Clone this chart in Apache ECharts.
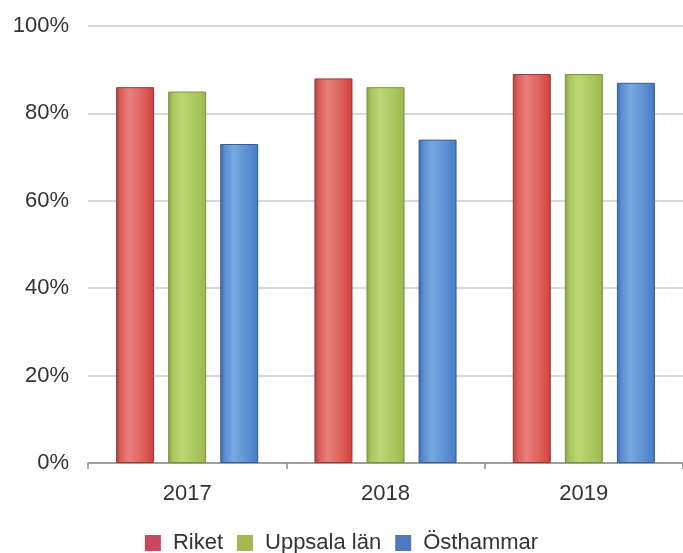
<!DOCTYPE html>
<html>
<head>
<meta charset="utf-8">
<script src="https://cdn.jsdelivr.net/npm/echarts@6/dist/echarts.min.js"></script>
<style>
  html, body { margin: 0; padding: 0; background: #fff; }
  #chart { width: 683px; height: 553px; }
</style>
</head>
<body>
<div id="chart"></div>
<script>
// Andel (%) per år och område
const years = ['2017', '2018', '2019'];
const riket = [86, 88, 89];
const uppsala = [85, 86, 89];
const osthammar = [73, 74, 87];
const yTicks = [0, 20, 40, 60, 80, 100];

function barFill(edge, light, mid, dark) {
  return new echarts.graphic.LinearGradient(0, 0, 1, 0, [
    { offset: 0, color: edge },
    { offset: 0.12, color: mid },
    { offset: 0.35, color: light },
    { offset: 0.75, color: mid },
    { offset: 0.95, color: dark },
    { offset: 1, color: edge }
  ]);
}

const palette = {
  riket:  { legend: '#c9475f', fill: barFill('#a84444', '#e8807c', '#dc5d58', '#d8433e'), border: '#8e3b3b' },
  uppsala:{ legend: '#a5b752', fill: barFill('#8ba046', '#bad774', '#a8c65c', '#9dbb4d'), border: '#7f9243' },
  osth:   { legend: '#5177c0', fill: barFill('#3f68a6', '#78a8e0', '#5a8ed2', '#4a7ec6'), border: '#3c5f94' }
};

function makeSeries(name, data, p) {
  return {
    name: name,
    type: 'bar',
    data: data,
    barWidth: 38,
    barGap: '37%',
    itemStyle: { color: p.fill, borderColor: p.border, borderWidth: 1 }
  };
}

const font = 'Liberation Sans, Arial, sans-serif';
const chart = echarts.init(document.getElementById('chart'));
chart.setOption({
  animation: false,
  textStyle: { fontFamily: font },
  grid: { left: 88, right: 0, top: 26, bottom: 90, containLabel: false },
  legend: {
    top: 532,
    left: 'center',
    padding: 0,
    itemWidth: 16,
    itemHeight: 16,
    itemGap: 14,
    icon: 'rect',
    textStyle: { fontSize: 22, color: '#333', fontFamily: font, padding: [0, 0, 0, 7] },
    data: [
      { name: 'Riket', itemStyle: { color: palette.riket.legend, borderWidth: 0 } },
      { name: 'Uppsala län', itemStyle: { color: palette.uppsala.legend, borderWidth: 0 } },
      { name: 'Östhammar', itemStyle: { color: palette.osth.legend, borderWidth: 0 } }
    ]
  },
  xAxis: {
    type: 'category',
    data: years,
    axisLine: { show: true, lineStyle: { color: '#8a8a8a', width: 1.5 } },
    axisTick: { show: true, length: 6, lineStyle: { color: '#8a8a8a', width: 1.5 } },
    axisLabel: { fontSize: 22, color: '#333', margin: 20 }
  },
  yAxis: {
    type: 'value',
    min: yTicks[0],
    max: yTicks[yTicks.length - 1],
    interval: 20,
    axisLine: { show: false },
    axisTick: { show: false },
    axisLabel: { fontSize: 22, color: '#333', margin: 19, formatter: '{value}%' },
    splitLine: { lineStyle: { color: '#d8d8d8', width: 2 } }
  },
  series: [
    makeSeries('Riket', riket, palette.riket),
    makeSeries('Uppsala län', uppsala, palette.uppsala),
    makeSeries('Östhammar', osthammar, palette.osth)
  ]
});
</script>
</body>
</html>
